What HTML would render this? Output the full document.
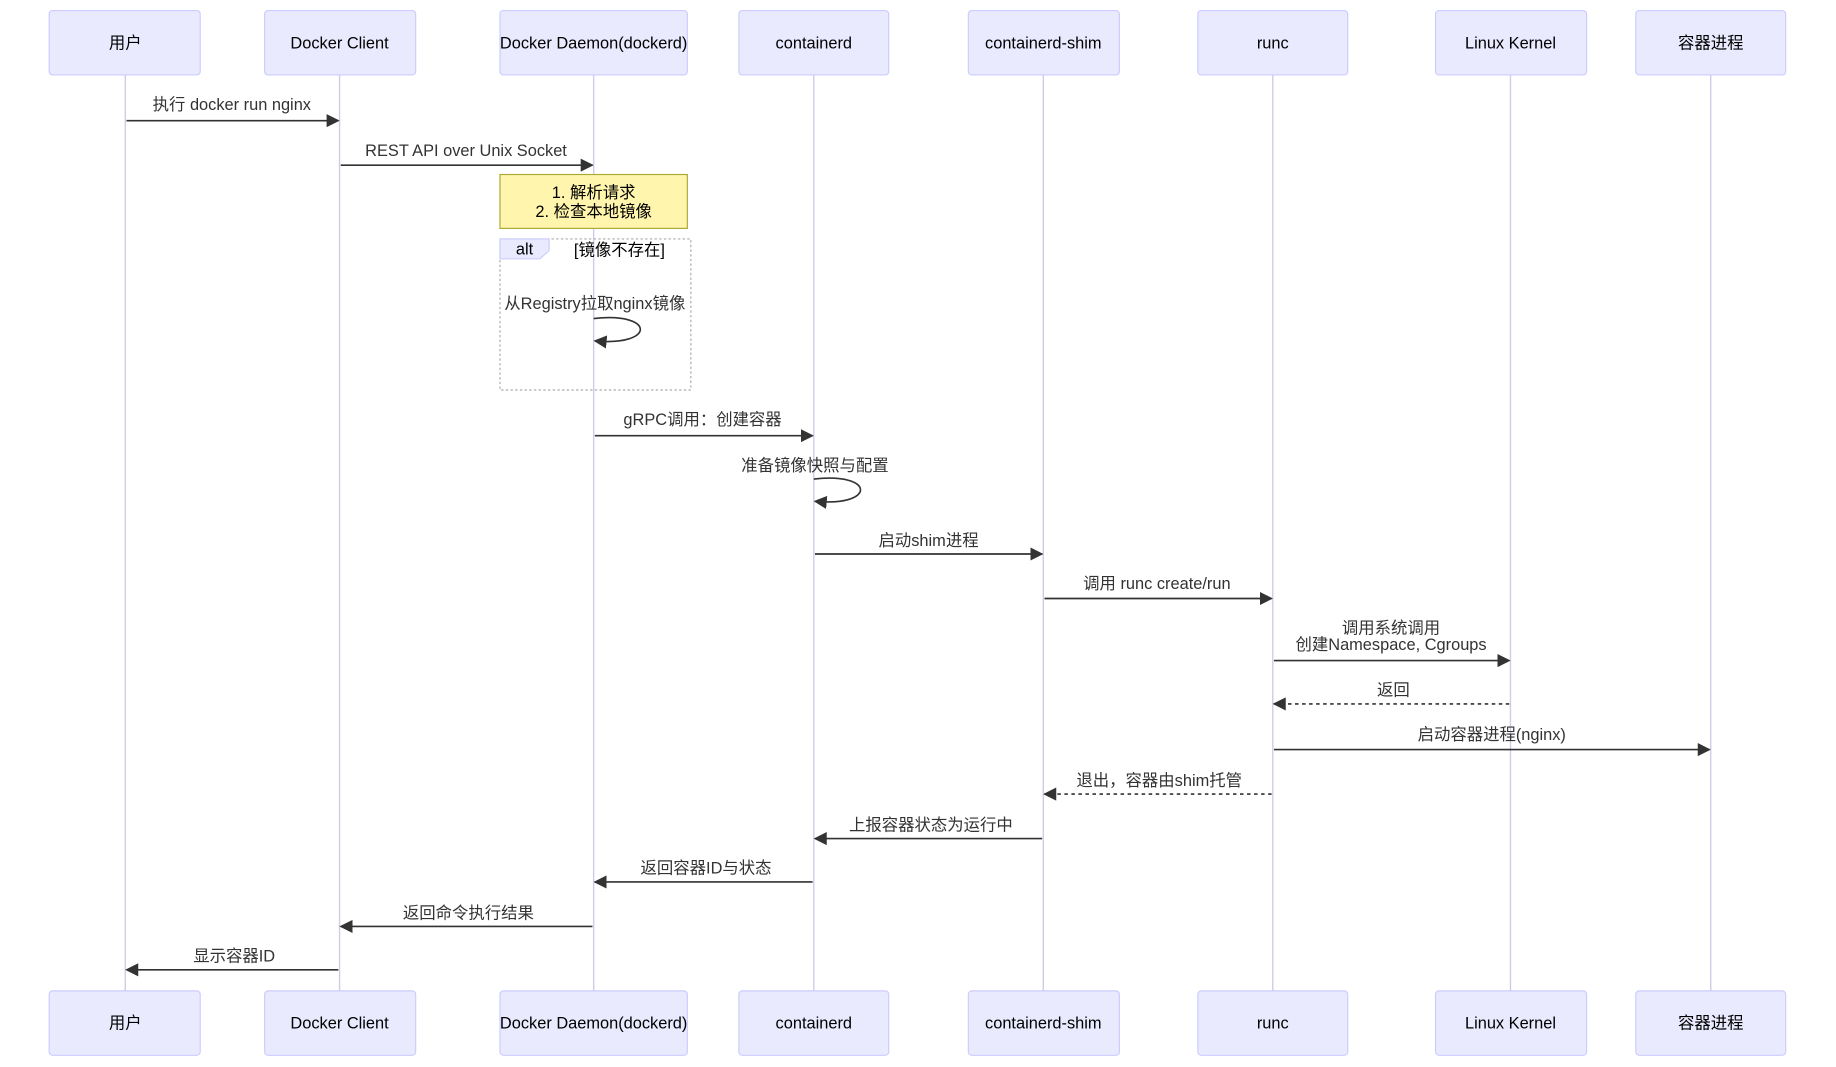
<!DOCTYPE html>
<html><head><meta charset="utf-8"><style>
html,body{margin:0;padding:0;background:#fff;}
svg{display:block;}
text{font-family:"Liberation Sans","Noto Sans CJK SC",sans-serif;font-size:14px;fill:#333;}
.a{fill:#000;text-anchor:middle;dominant-baseline:central;font-size:14px;}
.m{text-anchor:middle;}
.box{fill:#eaeaff;stroke:#ccccff;stroke-width:1;}
.life{stroke:#d0cce8;stroke-width:1.2;}
.ln{stroke:#333;stroke-width:1.4;fill:none;}
.dash{stroke-dasharray:3,3;}
</style></head><body>
<svg width="1836" height="1067" viewBox="0 0 1568 911" preserveAspectRatio="none" xmlns="http://www.w3.org/2000/svg">
<defs><marker id="ar" viewBox="0 0 10 10" refX="9" refY="5" markerWidth="8" markerHeight="8" orient="auto"><path d="M0,0 L10,5 L0,10 z" fill="#333"/></marker></defs>
<g class="life">
<line x1="107" y1="64" x2="107" y2="846"/><line x1="290" y1="64" x2="290" y2="846"/>
<line x1="507" y1="64" x2="507" y2="846"/><line x1="695" y1="64" x2="695" y2="846"/>
<line x1="891" y1="64" x2="891" y2="846"/><line x1="1087" y1="64" x2="1087" y2="846"/>
<line x1="1290" y1="64" x2="1290" y2="846"/><line x1="1461" y1="64" x2="1461" y2="846"/>
</g>
<g>
<rect class="box" x="42" y="9" width="129" height="55" rx="3"/><text class="a" x="107" y="37">用户</text>
<rect class="box" x="226" y="9" width="129" height="55" rx="3"/><text class="a" x="290" y="37">Docker Client</text>
<rect class="box" x="427" y="9" width="160" height="55" rx="3"/><text class="a" x="507" y="37">Docker Daemon(dockerd)</text>
<rect class="box" x="631" y="9" width="128" height="55" rx="3"/><text class="a" x="695" y="37">containerd</text>
<rect class="box" x="827" y="9" width="129" height="55" rx="3"/><text class="a" x="891" y="37">containerd-shim</text>
<rect class="box" x="1023" y="9" width="128" height="55" rx="3"/><text class="a" x="1087" y="37">runc</text>
<rect class="box" x="1226" y="9" width="129" height="55" rx="3"/><text class="a" x="1290" y="37">Linux Kernel</text>
<rect class="box" x="1397" y="9" width="128" height="55" rx="3"/><text class="a" x="1461" y="37">容器进程</text>

<rect class="box" x="42" y="846" width="129" height="55" rx="3"/><text class="a" x="107" y="874">用户</text>
<rect class="box" x="226" y="846" width="129" height="55" rx="3"/><text class="a" x="290" y="874">Docker Client</text>
<rect class="box" x="427" y="846" width="160" height="55" rx="3"/><text class="a" x="507" y="874">Docker Daemon(dockerd)</text>
<rect class="box" x="631" y="846" width="128" height="55" rx="3"/><text class="a" x="695" y="874">containerd</text>
<rect class="box" x="827" y="846" width="129" height="55" rx="3"/><text class="a" x="891" y="874">containerd-shim</text>
<rect class="box" x="1023" y="846" width="128" height="55" rx="3"/><text class="a" x="1087" y="874">runc</text>
<rect class="box" x="1226" y="846" width="129" height="55" rx="3"/><text class="a" x="1290" y="874">Linux Kernel</text>
<rect class="box" x="1397" y="846" width="128" height="55" rx="3"/><text class="a" x="1461" y="874">容器进程</text>
</g>

<rect x="427" y="149" width="160" height="46" fill="#fff5ad" stroke="#aaaa33"/>
<text class="a" x="507" y="165">1. 解析请求</text><text class="a" x="507" y="181">2. 检查本地镜像</text>

<rect x="427" y="204" width="163" height="129" fill="none" stroke="#aaa" stroke-dasharray="2,2"/>
<path d="M427,204 H469 V214 L461,221 H427 Z" fill="#eaeaff" stroke="#ccccff"/>
<text class="a" x="448" y="213">alt</text>
<text class="a" x="529" y="214">[镜像不存在]</text>
<text class="m" x="508" y="264">从Registry拉取nginx镜像</text>
<path class="ln" d="M507,272 C560,266 560,296 508,291" marker-end="url(#ar)"/>

<g>
<text class="m" x="198" y="94">执行 docker run nginx</text><line class="ln" x1="108" y1="103" x2="289" y2="103" marker-end="url(#ar)"/>
<text class="m" x="398" y="133">REST API over Unix Socket</text><line class="ln" x1="291" y1="141" x2="506" y2="141" marker-end="url(#ar)"/>
<text class="m" x="600" y="363">gRPC调用：创建容器</text><line class="ln" x1="508" y1="372" x2="694" y2="372" marker-end="url(#ar)"/>
<text class="m" x="696" y="402">准备镜像快照与配置</text>
<path class="ln" d="M695,409 C748,403 748,433 696,428" marker-end="url(#ar)"/>
<text class="m" x="793" y="466">启动shim进程</text><line class="ln" x1="696" y1="473" x2="890" y2="473" marker-end="url(#ar)"/>
<text class="m" x="988" y="503">调用 runc create/run</text><line class="ln" x1="892" y1="511" x2="1086" y2="511" marker-end="url(#ar)"/>
<text class="m" x="1188" y="541">调用系统调用</text><text class="m" x="1188" y="555">创建Namespace, Cgroups</text>
<line class="ln" x1="1088" y1="564" x2="1289" y2="564" marker-end="url(#ar)"/>
<text class="m" x="1190" y="594">返回</text><line class="ln dash" x1="1289" y1="601" x2="1088" y2="601" marker-end="url(#ar)"/>
<text class="m" x="1274" y="632">启动容器进程(nginx)</text><line class="ln" x1="1088" y1="640" x2="1460" y2="640" marker-end="url(#ar)"/>
<text class="m" x="990" y="671">退出，容器由shim托管</text><line class="ln dash" x1="1086" y1="678" x2="892" y2="678" marker-end="url(#ar)"/>
<text class="m" x="795" y="709">上报容器状态为运行中</text><line class="ln" x1="890" y1="716" x2="696" y2="716" marker-end="url(#ar)"/>
<text class="m" x="603" y="746">返回容器ID与状态</text><line class="ln" x1="694" y1="753" x2="508" y2="753" marker-end="url(#ar)"/>
<text class="m" x="400" y="784">返回命令执行结果</text><line class="ln" x1="506" y1="791" x2="291" y2="791" marker-end="url(#ar)"/>
<text class="m" x="200" y="821">显示容器ID</text><line class="ln" x1="289" y1="828" x2="108" y2="828" marker-end="url(#ar)"/>
</g>
</svg>
</body></html>
